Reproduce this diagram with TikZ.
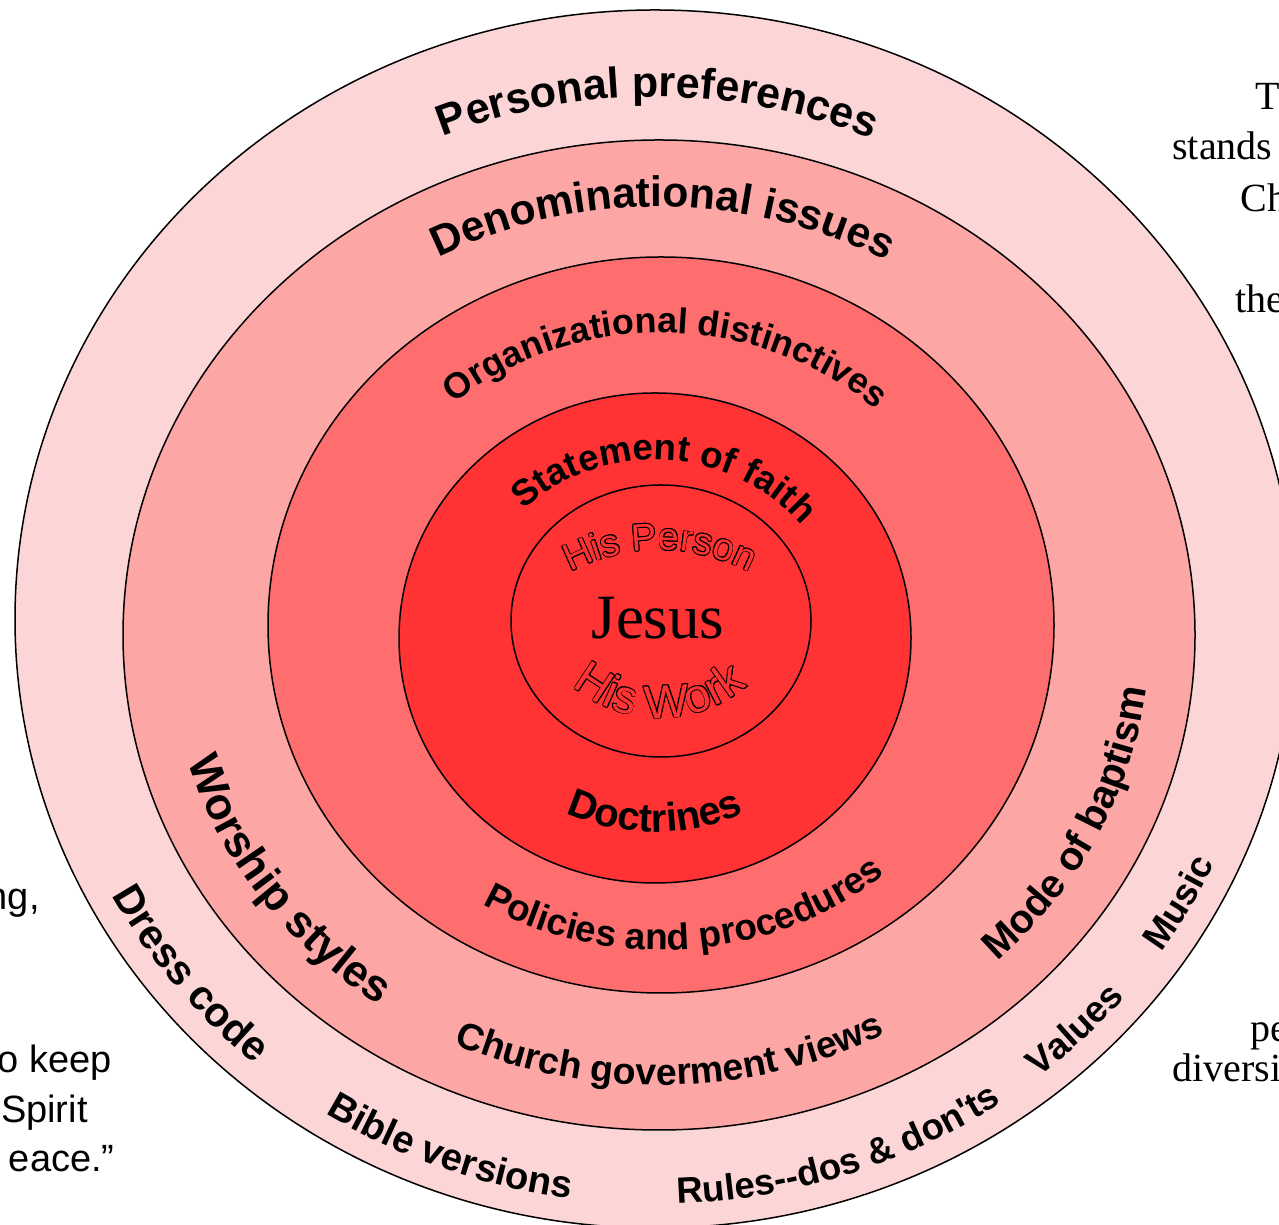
\documentclass[tikz,border=0pt]{standalone}
\usepackage{fontspec}
\setmainfont{Liberation Serif}
\newfontfamily\hv{Liberation Sans}
\usetikzlibrary{decorations.text}
\definecolor{ringA}{RGB}{252,214,214}
\definecolor{ringB}{RGB}{253,166,166}
\definecolor{ringC}{RGB}{255,110,110}
\definecolor{ringD}{RGB}{255,51,51}
% clockwise (top) text: cx cy rx ry centre-angle size text
\newcommand\arctextcw[7]{\path[decorate,decoration={text along path,text align=center,text={|\hv\bfseries\fontsize{#6}{#6}\selectfont|#7}}] ([shift={(#1,#2)}]#5+80:#3 and #4) arc[start angle=#5+80,end angle=#5-80,x radius=#3,y radius=#4];}
% counter-clockwise (bottom) text
\newcommand\arctextccw[7]{\path[decorate,decoration={text along path,text align=center,text={|\hv\bfseries\fontsize{#6}{#6}\selectfont|#7}}] ([shift={(#1,#2)}]#5-80:#3 and #4) arc[start angle=#5-80,end angle=#5+80,x radius=#3,y radius=#4];}
\begin{document}
\begin{tikzpicture}[x=0.5pt,y=0.5pt,ring/.style={draw=black,line width=0.75pt}]
\clip (0,0) rectangle (1279,1225);
\fill[white] (0,0) rectangle (1279,1225);
% rings
\path[ring,fill=ringA] (655,606) ellipse[x radius=640,y radius=609];
\path[ring,fill=ringB] (659,590) ellipse[x radius=536,y radius=495];
\path[ring,fill=ringC] (661,600) ellipse[x radius=393,y radius=368];
\path[ring,fill=ringD] (655,587) ellipse[x radius=256,y radius=245];
\path[ring,fill=ringD] (661,604) ellipse[x radius=150,y radius=136];
% ring 1
\arctextcw{655}{606}{553}{522}{89.7}{21.6}{Personal preferences}
\arctextccw{655}{606}{616}{585}{217.5}{20.6}{Dress code}
\arctextccw{655}{606}{616}{585}{249}{19.1}{Bible versions}
\arctextccw{655}{606}{616}{585}{289}{18.3}{Rules--dos {\&} don'ts}
\arctextccw{655}{606}{616}{585}{315.5}{18.3}{Values}
\arctextccw{655}{606}{616}{585}{331.5}{18.3}{Music}
% ring 2
\arctextcw{659}{590}{469}{428}{89.5}{21.3}{Denominational issues}
\arctextccw{659}{590}{491}{450}{213.8}{22.2}{Worship styles}
\arctextccw{659}{590}{491}{450}{271.5}{18.7}{Church goverment views}
\arctextccw{659}{590}{491}{450}{335}{20}{Mode of baptism}
% ring 3
\arctextcw{661}{600}{318}{292}{89}{17.9}{Organizational distinctives}
\arctextccw{661}{600}{350}{325}{274.8}{18.5}{Policies and procedures}
% ring 4
\arctextcw{655}{587}{189}{178}{86.5}{18.3}{Statement of faith}
\arctextccw{655}{587}{205}{194}{270}{20}{Doctrines}
% centre
\foreach \a in {0,30,...,330}{
  \path[shift={(\a:0.8)},decorate,decoration={text along path,text align=center,text={|\hv\fontsize{19}{19}\selectfont\color{black}|His Person}}] ([shift={(660,485)}]170:190) arc[start angle=170,end angle=10,radius=190];
  \path[shift={(\a:0.8)},decorate,decoration={text along path,text align=center,text={|\hv\fontsize{23.5}{23.5}\selectfont\color{black}|His Work}}] ([shift={(660,642)}]190:135) arc[start angle=190,end angle=350,radius=135];
}
\path[decorate,decoration={text along path,text align=center,text={|\hv\fontsize{19}{19}\selectfont\color{ringD}|His Person}}] ([shift={(660,485)}]170:190) arc[start angle=170,end angle=10,radius=190];
\path[decorate,decoration={text along path,text align=center,text={|\hv\fontsize{23.5}{23.5}\selectfont\color{ringD}|His Work}}] ([shift={(660,642)}]190:135) arc[start angle=190,end angle=350,radius=135];
\node[inner sep=0pt] (jesus) at (658,607) {\fontsize{31.5}{31.5}\selectfont Jesus};
% partial side texts
\begin{scope}[every node/.style={inner sep=0pt,font=\fontsize{20}{20}\selectfont}]
\node[anchor=base west] (r1) at (1255,1115) {T};
\node[anchor=base west] (r2) at (1172,1065) {stands};
\node[anchor=base west] (r3) at (1240,1013) {Ch};
\node[anchor=base west] (r4) at (1235,912) {the};
\node[anchor=base west] (r5) at (1250,183) {pe};
\node[anchor=base west] (r6) at (1172,143) {diversi};
\end{scope}
\begin{scope}[every node/.style={inner sep=0pt,font=\hv\fontsize{19}{19}\selectfont}]
\node[anchor=base east] (l1) at (40,315) {ng,};
\node[anchor=base east] (l2) at (112,152) {o keep};
\node[anchor=base east] (l3) at (88,102) {Spirit};
\node[anchor=base east] (l4) at (115,53) {eace.”};
\end{scope}
\end{tikzpicture}
\end{document}
